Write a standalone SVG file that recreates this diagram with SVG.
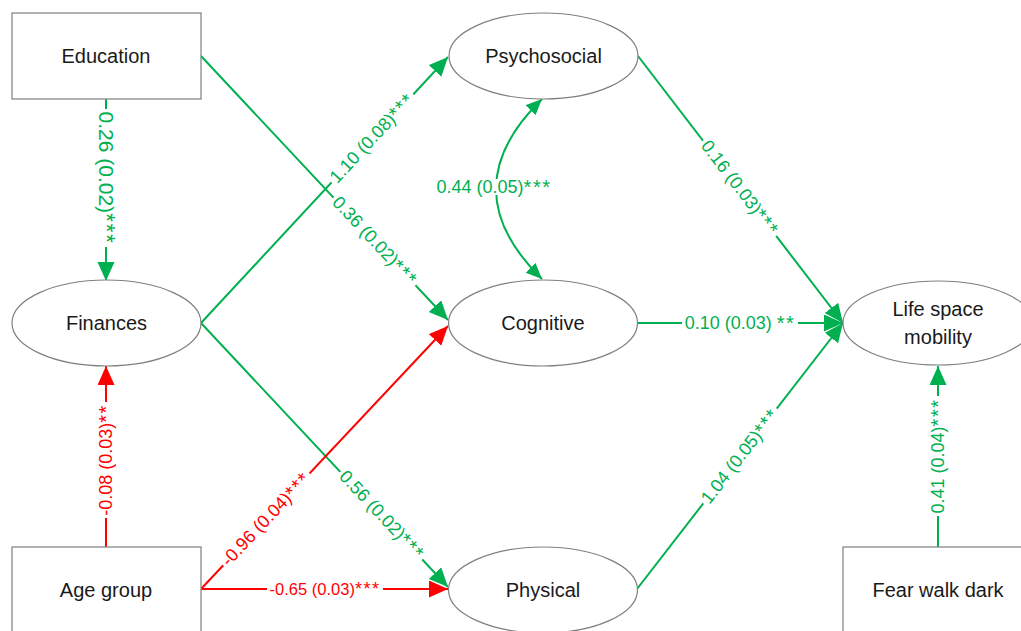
<svg xmlns="http://www.w3.org/2000/svg" width="1021" height="631" viewBox="0 0 1021 631">
<style>
.node{fill:#fff;stroke:#7f7f7f;stroke-width:1.2}
.nt{font-family:"Liberation Sans",Arial,sans-serif;font-size:20px;fill:#1a1a1a;text-anchor:middle;dominant-baseline:central}
.g{stroke:#00b050;stroke-width:2;fill:none}
.r{stroke:#ff0000;stroke-width:2;fill:none}
.bg{fill:#fff}
.lb{font-family:"Liberation Sans",Arial,sans-serif;font-size:18px;text-anchor:middle;dominant-baseline:central}
.lg{fill:#00b050}
.lr{fill:#ff0000}
.st{font-size:20px;letter-spacing:1.5px}
</style>
<defs>
<marker id="ag" markerUnits="userSpaceOnUse" markerWidth="20" markerHeight="18" refX="19" refY="8.5" orient="auto-start-reverse" viewBox="0 0 20 18"><path d="M0,0 L19,8.5 L0,17 z" fill="#00b050"/></marker>
<marker id="ar" markerUnits="userSpaceOnUse" markerWidth="20" markerHeight="18" refX="19" refY="8.5" orient="auto-start-reverse" viewBox="0 0 20 18"><path d="M0,0 L19,8.5 L0,17 z" fill="#ff0000"/></marker>
<marker id="ag2" markerUnits="userSpaceOnUse" markerWidth="18" markerHeight="16" refX="16" refY="7" orient="auto-start-reverse" viewBox="0 0 18 16"><path d="M0,0 L16,7 L0,14 z" fill="#00b050"/></marker>
</defs>
<rect width="1021" height="631" fill="#fff"/>
<g id="connectors">
<path class="g" d="M106,99 L106,281" marker-end="url(#ag)"/>
<path class="g" d="M201,56 L448,320" marker-end="url(#ag)"/>
<path class="g" d="M201,323 L448,57" marker-end="url(#ag)"/>
<path class="g" d="M201,323 L448,587" marker-end="url(#ag)"/>
<path class="r" d="M201,589 L448,326" marker-end="url(#ar)"/>
<path class="r" d="M201,589 L448,589" marker-end="url(#ar)"/>
<path class="r" d="M106,547 L106,366" marker-end="url(#ar)"/>
<path class="g" d="M542,99 Q450,189 542,279" marker-start="url(#ag2)" marker-end="url(#ag2)"/>
<path class="g" d="M638,56 L843,323" marker-end="url(#ag)"/>
<path class="g" d="M637,323 L843,323" marker-end="url(#ag)"/>
<path class="g" d="M637,589 L843,323" marker-end="url(#ag)"/>
<path class="g" d="M938,547 L938,366" marker-end="url(#ag)"/>
<rect class="bg" x="-69" y="-9" width="138" height="18" transform="translate(106,178) rotate(90)"/>
<rect class="bg" x="-60" y="-8" width="120" height="16" transform="translate(375,241) rotate(46.9)"/>
<rect class="bg" x="-60" y="-8" width="120" height="16" transform="translate(372,138) rotate(-47.1)"/>
<rect class="bg" x="-60" y="-8" width="120" height="16" transform="translate(382,515) rotate(46.8)"/>
<rect class="bg" x="-63" y="-8" width="126" height="16" transform="translate(266,519) rotate(-46.8)"/>
<rect class="bg" x="-58" y="-8" width="116" height="16" transform="translate(325,589)"/>
<rect class="bg" x="-58" y="-8" width="116" height="16" transform="translate(106,460) rotate(-90)"/>
<rect class="bg" x="-60" y="-8" width="120" height="16" transform="translate(494,187)"/>
<rect class="bg" x="-60" y="-8" width="120" height="16" transform="translate(740,188) rotate(52.5)"/>
<rect class="bg" x="-58" y="-8" width="116" height="16" transform="translate(740,323)"/>
<rect class="bg" x="-60" y="-8" width="120" height="16" transform="translate(740,456) rotate(-52.2)"/>
<rect class="bg" x="-60" y="-8" width="120" height="16" transform="translate(938,456) rotate(-90)"/>
<text class="lb lg" style="font-size:21px" transform="translate(106,178) rotate(90)">0.26 (0.02)<tspan class="st" style="font-size:23px">***</tspan></text>
<text class="lb lg" transform="translate(375,241) rotate(46.9)">0.36 (0.02)<tspan class="st">***</tspan></text>
<text class="lb lg" transform="translate(372,138) rotate(-47.1)">1.10 (0.08)<tspan class="st">***</tspan></text>
<text class="lb lg" transform="translate(382,515) rotate(46.8)">0.56 (0.02)<tspan class="st">***</tspan></text>
<text class="lb lr" transform="translate(266,519) rotate(-46.8)">-0.96 (0.04)<tspan class="st">***</tspan></text>
<text class="lb lr" style="font-size:16.5px" x="325" y="589">-0.65 (0.03)<tspan class="st" style="font-size:18px">***</tspan></text>
<text class="lb lr" transform="translate(106,460) rotate(-90)">-0.08 (0.03)<tspan class="st">**</tspan></text>
<text class="lb lg" x="494" y="187">0.44 (0.05)<tspan class="st">***</tspan></text>
<text class="lb lg" transform="translate(740,188) rotate(52.5)">0.16 (0.03)<tspan class="st">***</tspan></text>
<text class="lb lg" x="740" y="323">0.10 (0.03) <tspan class="st">**</tspan></text>
<text class="lb lg" transform="translate(740,456) rotate(-52.2)">1.04 (0.05)<tspan class="st">***</tspan></text>
<text class="lb lg" transform="translate(938,456) rotate(-90)">0.41 (0.04)<tspan class="st">***</tspan></text>
</g>
<g id="education"><rect class="node" x="12" y="13" width="189" height="86"/><text class="nt" x="106" y="56">Education</text></g>
<g id="finances"><ellipse class="node" cx="106.5" cy="323" rx="94.5" ry="43"/><text class="nt" x="106.5" y="323">Finances</text></g>
<g id="agegroup"><rect class="node" x="12" y="547" width="189" height="90"/><text class="nt" x="106" y="590">Age group</text></g>
<g id="psychosocial"><ellipse class="node" cx="543.5" cy="56" rx="94.5" ry="43"/><text class="nt" x="543.5" y="56">Psychosocial</text></g>
<g id="cognitive"><ellipse class="node" cx="543" cy="323" rx="94.5" ry="43"/><text class="nt" x="543" y="323">Cognitive</text></g>
<g id="physical"><ellipse class="node" cx="543" cy="590" rx="94.5" ry="43"/><text class="nt" x="543" y="590">Physical</text></g>
<g id="lifespace"><ellipse class="node" cx="938" cy="323" rx="95" ry="42"/><text class="nt" x="938" y="309">Life space</text><text class="nt" x="938" y="337">mobility</text></g>
<g id="fearwalkdark"><rect class="node" x="843" y="547" width="190" height="90"/><text class="nt" x="938" y="590">Fear walk dark</text></g>
</svg>
